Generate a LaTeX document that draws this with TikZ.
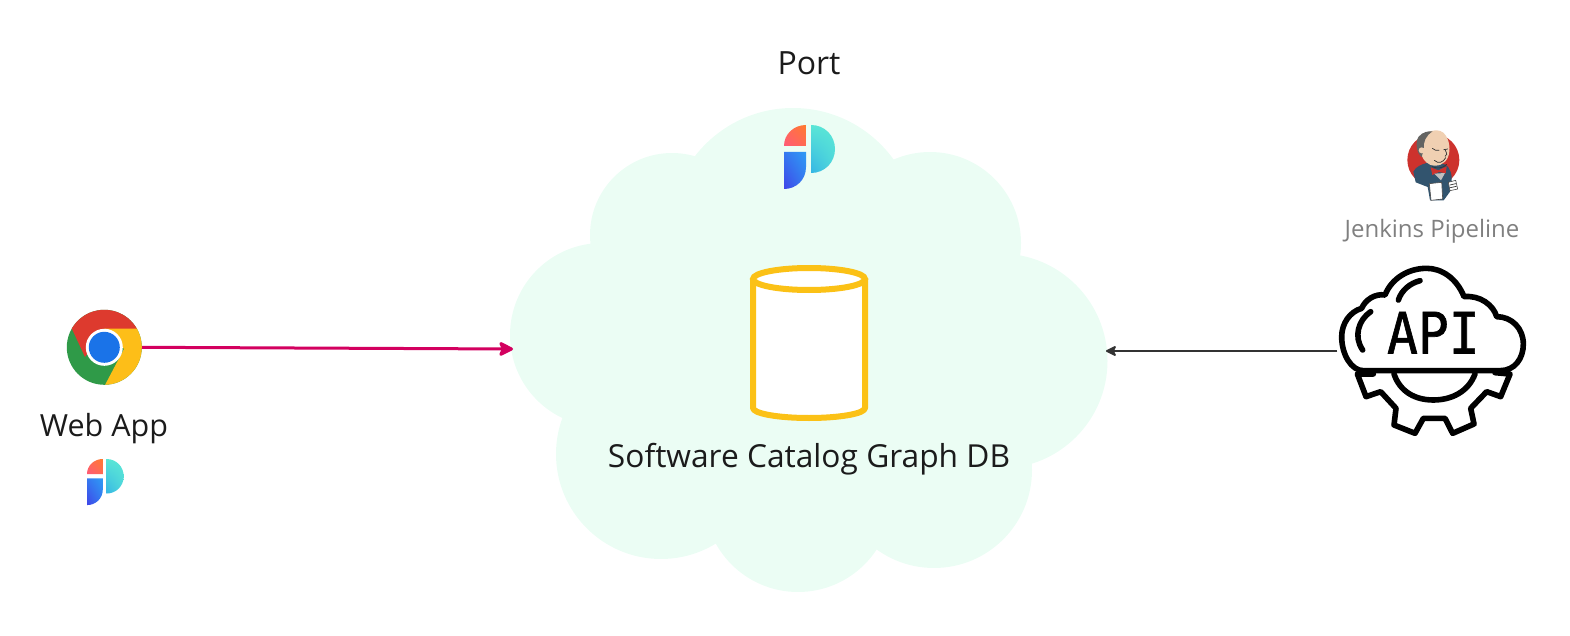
\documentclass[tikz,border=0pt]{standalone}
\usepackage{fontspec}
\usepackage{graphicx}
\setmainfont{Open Sans}
\newfontfamily\apifont[FakeBold=1.2]{DejaVu Sans Mono}
\usetikzlibrary{arrows.meta,shadings}
\definecolor{cloudfill}{HTML}{EBFDF4}
\definecolor{dbyellow}{HTML}{FBC116}
\definecolor{inkdark}{HTML}{1B1B1B}
\definecolor{pinkline}{HTML}{D3005F}
\definecolor{pa}{HTML}{FF7A2F}\definecolor{pb}{HTML}{FF5A78}
\definecolor{pc}{HTML}{2E9BF5}\definecolor{pd}{HTML}{3F45E8}
\definecolor{pe}{HTML}{5AE6D6}\definecolor{pf}{HTML}{35B5E5}
\definecolor{chromegreen}{RGB}{47,154,72}
\definecolor{chromeyellow}{RGB}{253,190,24}
\definecolor{chromered}{RGB}{221,58,46}
\definecolor{chromeblue}{RGB}{26,115,232}
\definecolor{jred}{RGB}{205,50,45}
\definecolor{jnavy}{RGB}{50,84,110}
\definecolor{jskin}{RGB}{240,208,178}
\definecolor{jhair}{RGB}{100,100,98}
\tikzset{
  cloudpart/.style={fill=cloudfill,draw=none},
  caption/.style={inner sep=0pt,text=inkdark},
  iconline/.style={line width=5.6pt,line cap=round,line join=round},
  jline/.style={draw=black!80,line width=0.7pt,line cap=round},
}
% Port logo; #1 origin (top-left), #2 scale
\newcommand{\portlogo}[2]{%
\begin{scope}[shift={#1},scale=#2]
  \shade[lower left=pb,upper right=pa,upper left=pb!50!pa,lower right=pb!50!pa]
    (0,21) .. controls (0,9) and (10,0) .. (22,0) -- (22,21) -- cycle;
  \shade[lower left=pd,upper right=pc,lower right=pc!60!pd,upper left=pc!60!pd]
    (0,27) -- (22,27) -- (22,42) .. controls (22,55) and (12,64) .. (0,64) -- cycle;
  \shade[upper left=pe,lower left=pf,upper right=pe,lower right=pe!70!pf]
    (27,0) .. controls (41,0) and (51,11) .. (51,24) .. controls (51,37) and (41,48) .. (27,48) -- cycle;
\end{scope}}
\begin{document}
\begin{tikzpicture}[x=1pt,y=-1pt]
\useasboundingbox (0,0) rectangle (1570,636);
% cloud
\fill[cloudpart] (793,232) circle[radius=124];
\fill[cloudpart] (672,235) circle[radius=82];
\fill[cloudpart] (930,243) circle[radius=91];
\fill[cloudpart] (602,335) circle[radius=92];
\fill[cloudpart] (1000,361) circle[radius=107.5];
\fill[cloudpart] (661,454) circle[radius=105];
\fill[cloudpart] (934,470) circle[radius=98];
\fill[cloudpart] (798,498) circle[radius=94];
\fill[cloudpart] (800,350) circle[radius=200];
\coordinate (cloudwest) at (513,349);
\coordinate (cloudeast) at (1106,351);
% texts
\node[caption,font=\fontsize{32}{36}\selectfont] (port) at (809,63) {Port};
\node[caption,font=\fontsize{31.7}{36}\selectfont] (catalog) at (809,459) {Software Catalog Graph DB};
\node[caption,font=\fontsize{30.5}{36}\selectfont] (webapp) at (104,429) {Web App};
\node[inner sep=0pt,text=black!50,font=\fontsize{24}{28}\selectfont] (jenkins) at (1432,231) {Jenkins Pipeline};
% logos
\portlogo{(784,125)}{1}
\portlogo{(87,459)}{0.72}
% database
\draw[dbyellow,fill=white,line width=6pt,line join=round] (753,279) -- (753,408)
  arc[start angle=180,end angle=0,x radius=56,y radius=10] -- (865,279);
\filldraw[dbyellow,fill=white,line width=6pt] (809,279) ellipse[x radius=56,y radius=11];
% chrome
\node[circle,inner sep=0pt,minimum size=75pt] (chrome) at (104.3,347.3) {};
\begin{scope}
  \clip (104.3,347.3) circle[radius=37.5];
  \fill[chromegreen] (60,300) rectangle (150,395);
  \fill[chromeyellow] (104,328) -- (150,328) -- (150,395) -- (105,395) -- (105,385) -- (124,349) -- cycle;
  \fill[chromered] (60,300) -- (150,300) -- (150,328.5) -- (104,328.5) -- (85,357) -- (72,329) -- (60,310) -- cycle;
\end{scope}
\fill[white] (104.3,347.3) circle[radius=18.5];
\fill[chromeblue] (104.3,347.3) circle[radius=15.5];
% API icon (coordinates in zoom units)
\begin{scope}[shift={(1320,120)},scale=1/3]
  \draw[iconline] (130,752) -- (540,752)
    .. controls (585,752) and (610,715) .. (610,672)
    .. controls (610,625) and (575,590) .. (530,590)
    .. controls (520,555) and (480,525) .. (432,530)
    .. controls (410,475) and (365,445) .. (320,445)
    .. controls (265,445) and (215,475) .. (195,525)
    .. controls (165,520) and (135,540) .. (125,565)
    .. controls (90,575) and (65,610) .. (65,650)
    .. controls (65,705) and (95,752) .. (130,752) -- cycle;
  \draw[iconline] (300,482) .. controls (270,490) and (245,510) .. (235,540);
  \draw[iconline] (152,575) .. controls (115,600) and (100,650) .. (128,690);
  \draw[iconline] (222,762) .. controls (240,815) and (285,840) .. (340,840)
    .. controls (395,840) and (445,815) .. (465,762);
  \draw[iconline] (160,762) -- (112,762) -- (138,830) -- (182,815) -- (228,865) -- (222,915)
    -- (285,940) -- (310,895) -- (375,895) -- (398,940) -- (462,912) -- (452,865)
    -- (500,815) -- (542,830) -- (570,762) -- (525,758);
  \node[inner sep=0pt,text=black,font=\apifont\fontsize{57}{57}\selectfont] (apitext) at (340,638) {\scalebox{0.9}[1]{API}};
\end{scope}
\node[inner sep=0pt,minimum width=1pt,minimum height=1pt] (apicloud) at (1338,351) {};
% Jenkins icon
\begin{scope}[shift={(1395,125)},scale=1/3]
  \fill[jred] (115,105) circle[radius=78];
  \fill[jnavy] (55,140) .. controls (62,125) and (80,118) .. (95,114) -- (150,118)
    .. controls (165,125) and (172,150) .. (170,172) -- (165,200) -- (146,226) -- (105,226)
    -- (98,186) -- (62,172) -- cycle;
  \fill[jskin] (70,60) .. controls (70,30) and (100,16) .. (125,16)
    .. controls (155,16) and (166,55) .. (163,80)
    .. controls (160,105) and (145,122) .. (120,122)
    .. controls (98,122) and (85,105) .. (80,92) -- cycle;
  \fill[jhair] (80,96) .. controls (65,85) and (60,55) .. (70,36)
    .. controls (83,20) and (100,18) .. (113,19)
    .. controls (92,32) and (85,50) .. (86,72) -- cycle;
  \fill[jskin] (80,76) circle[radius=9];
  \draw[jline] (112,70) .. controls (118,76) and (126,78) .. (132,76);
  \draw[jline] (146,74) -- (158,72);
  \draw[jline] (150,74) .. controls (156,86) and (158,92) .. (150,94);
  \draw[jline] (118,106) .. controls (130,118) and (145,112) .. (152,98);
  \draw[jline] (112,125) .. controls (125,132) and (145,130) .. (155,118);
  \fill[jred] (107,127) -- (130,136) -- (155,124) -- (152,145) -- (132,141) -- (112,150) -- cycle;
  \fill[black!25] (118,146) -- (150,144) -- (138,166) -- cycle;
  \filldraw[fill=white,draw=black!70,line width=0.6pt] (103,176) -- (140,172) -- (143,222) -- (108,226) -- cycle;
  \filldraw[fill=white,draw=black!70,line width=0.6pt] (160,172) -- (182,166) -- (188,192) -- (165,197) -- cycle;
  \draw[jline] (165,180) -- (182,176);
  \draw[jline] (166,188) -- (184,184);
\end{scope}
% connectors
\draw[pinkline,line width=3pt,-{Stealth[length=17pt,width=17pt,inset=4pt,round]}] (chrome.east) -- (cloudwest);
\draw[black!80,line width=1.8pt,-{Stealth[length=12pt,width=12pt,inset=3pt,round]}] (apicloud) -- (cloudeast);
\end{tikzpicture}
\end{document}
